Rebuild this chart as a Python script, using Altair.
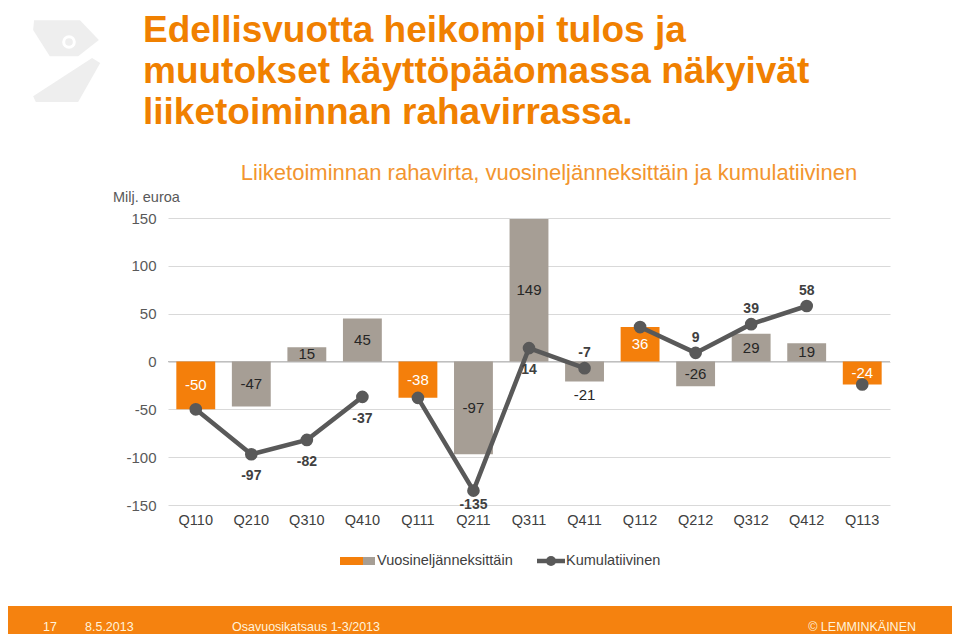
import altair as alt
import pandas as pd

# ---------------- data ----------------
quarters = ["Q110", "Q210", "Q310", "Q410", "Q111", "Q211", "Q311",
            "Q411", "Q112", "Q212", "Q312", "Q412", "Q113"]
quarterly = [-50, -47, 15, 45, -38, -97, 149, -21, 36, -26, 29, 19, -24]
cumulative = [-50, -97, -82, -37, -38, -135, 14, -7, 36, 9, 39, 58, -24]

title_lines = ["Edellisvuotta heikompi tulos ja",
               "muutokset käyttöpääomassa näkyivät",
               "liiketoiminnan rahavirrassa."]
subtitle = "Liiketoiminnan rahavirta, vuosineljänneksittäin ja kumulatiivinen"
unit_label = "Milj. euroa"
legend_labels = ["Vuosineljänneksittäin", "Kumulatiivinen"]
footer_page = "17"
footer_date = "8.5.2013"
footer_doc = "Osavuosikatsaus 1-3/2013"
footer_right = "© LEMMINKÄINEN"
y_ticks = [-150, -100, -50, 0, 50, 100, 150]

df = pd.DataFrame({"quarter": quarters, "quarterly": quarterly, "cumulative": cumulative})
df["year"] = df["quarter"].str[-2:]
df["kind"] = df["quarter"].str[:2].map(lambda q: "q1" if q == "Q1" else "other")

# ---------------- style ----------------
FONT = "Liberation Sans"
ORANGE = "#F47F0B"
GRAY_BAR = "#A69E95"
LINE = "#595959"
TITLE_ORANGE = "#F08000"
SUB_ORANGE = "#F2952F"
FOOTER = "#F5820F"
FOOTER_TEXT = "#FFF3DC"

x_enc = alt.X("quarter:N", sort=quarters,
              scale=alt.Scale(paddingInner=0.3, paddingOuter=0.15),
              axis=alt.Axis(title=None, labelAngle=0, ticks=False, domain=False, grid=False,
                            labelFont=FONT, labelFontSize=14.5, labelColor="#404040",
                            labelPadding=8))


def y_enc(field):
    return alt.Y(f"{field}:Q",
                 scale=alt.Scale(domain=[-150, 150], nice=False),
                 axis=alt.Axis(title=None, values=y_ticks, ticks=False, domain=False,
                               grid=True, gridColor="#D9D9D9", gridWidth=1,
                               labelExpr="toString(datum.value)",
                               labelFont=FONT, labelFontSize=15, labelColor="#595959",
                               labelPadding=12))


base = alt.Chart(df).transform_calculate(
    q_txt="toString(datum.quarterly)", c_txt="toString(datum.cumulative)")

zero = alt.Chart(pd.DataFrame({"z": [0]})).mark_rule(color="#BFBFBF", strokeWidth=1).encode(
    y=y_enc("z"))

bars = base.mark_bar().encode(
    x=x_enc, y=y_enc("quarterly"),
    color=alt.Color("kind:N", scale=alt.Scale(domain=["q1", "other"], range=[ORANGE, GRAY_BAR]),
                    legend=None))

bar_labels = base.transform_calculate(
    label_y="datum.quarter == 'Q411' ? datum.quarterly - 14 : datum.quarterly / 2"
).mark_text(font=FONT, fontSize=15, baseline="middle").encode(
    x=x_enc, y=y_enc("label_y"), text=alt.Text("q_txt:N"),
    color=alt.condition(alt.datum.kind == "q1", alt.value("white"), alt.value("#262626")))

line = base.mark_line(color=LINE, strokeWidth=4.5).encode(
    x=x_enc, y=y_enc("cumulative"), detail="year:N")
points = base.mark_circle(color=LINE, size=160, opacity=1).encode(
    x=x_enc, y=y_enc("cumulative"))


def line_label(group, dy):
    return base.transform_filter(
        alt.FieldOneOfPredicate(field="quarter", oneOf=group)
    ).mark_text(font=FONT, fontSize=14, fontWeight="bold", color="#404040",
                baseline="middle", dy=dy).encode(
        x=x_enc, y=y_enc("cumulative"), text=alt.Text("c_txt:N"))


lbl_below = line_label(["Q210", "Q310", "Q410", "Q311"], 22)
lbl_bottom = line_label(["Q211"], 14)
lbl_above = line_label(["Q411", "Q212", "Q312", "Q412"], -15)

one = pd.DataFrame({"t": [""]})


def deco_text(txt, x, y, **kw):
    return alt.Chart(pd.DataFrame({"t": [txt]})).mark_text(font=FONT, **kw).encode(
        x=alt.value(x), y=alt.value(y), text="t:N")


def deco_rect(x1, x2, y1, y2, color):
    return alt.Chart(one).mark_rect(color=color).encode(
        x=alt.value(x1), x2=alt.value(x2), y=alt.value(y1), y2=alt.value(y2))


deco = []
# logo
logo_path = ("M-0.71,-0.93L0.31,-0.93L0.73,-0.49L0.27,-0.13L-0.36,-0.13L-0.73,-0.71Z "
             "M0.58,-0.09L0.76,0.02L0.27,0.89L-0.67,0.89L-0.73,0.76Z")
deco.append(alt.Chart(one).mark_point(shape=logo_path, filled=True, color="#EEEEEE",
                                      opacity=1, size=8100).encode(
    x=alt.value(-102), y=alt.value(-156)))
deco.append(alt.Chart(one).mark_point(shape="circle", filled=False, color="white",
                                      strokeWidth=3, opacity=1, size=113).encode(
    x=alt.value(-99), y=alt.value(-176)))
# title
for i, ln in enumerate(title_lines):
    deco.append(deco_text(ln, -25, -176 + i * 41, fontSize=37, fontWeight="bold",
                          color=TITLE_ORANGE, align="left", baseline="alphabetic"))
deco.append(deco_text(subtitle, 381, -38, fontSize=22, color=SUB_ORANGE,
                      align="center", baseline="alphabetic"))
deco.append(deco_text(unit_label, -55, -16, fontSize=14.5, color="#595959",
                      align="left", baseline="alphabetic"))
# legend
deco.append(deco_rect(172, 195, 339, 347, ORANGE))
deco.append(deco_rect(195, 207, 339, 347, GRAY_BAR))
deco.append(deco_text(legend_labels[0], 209, 343, fontSize=14.5, color="#404040",
                      align="left", baseline="middle"))
deco.append(alt.Chart(one).mark_rule(color=LINE, strokeWidth=4.5).encode(
    x=alt.value(369), x2=alt.value(397), y=alt.value(343)))
deco.append(alt.Chart(one).mark_circle(color=LINE, size=100, opacity=1).encode(
    x=alt.value(383), y=alt.value(343)))
deco.append(deco_text(legend_labels[1], 398, 343, fontSize=14.5, color="#404040",
                      align="left", baseline="middle"))
# footer
deco.append(deco_rect(-170, 800, 388, 430, FOOTER))
deco.append(deco_text(footer_page, -125, 409, fontSize=12.5, color=FOOTER_TEXT,
                      align="left", baseline="middle"))
deco.append(deco_text(footer_date, -83, 409, fontSize=12.5, color=FOOTER_TEXT,
                      align="left", baseline="middle"))
deco.append(deco_text(footer_doc, 64, 409, fontSize=12.5, color=FOOTER_TEXT,
                      align="left", baseline="middle"))
deco.append(deco_text(footer_right, 748, 409, fontSize=12.5, color=FOOTER_TEXT,
                      align="right", baseline="middle"))

chart = alt.layer(
    zero, bars, line, points, bar_labels, lbl_below, lbl_bottom, lbl_above, *deco
).properties(
    width=722, height=287,
    autosize=alt.AutoSizeParams(type="none"),
    padding={"left": 160, "top": 210, "right": 62, "bottom": 129},
    background="white",
).configure_view(stroke=None)

chart.save("out.html", embed_options={"renderer": "svg", "actions": False})
